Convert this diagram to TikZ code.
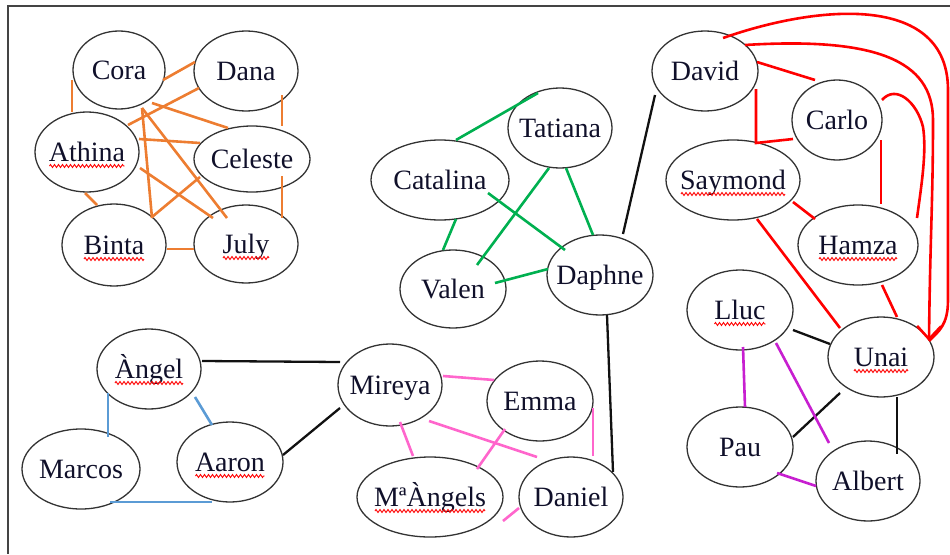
\documentclass[tikz,border=0pt]{standalone}
\usepackage{fontspec}
\setmainfont{Liberation Serif}
\usetikzlibrary{shapes.geometric,calc,decorations.pathmorphing,arrows.meta}
\definecolor{cOr}{HTML}{ED7D31}
\definecolor{cGr}{HTML}{00B050}
\definecolor{cBl}{HTML}{5B9BD5}
\definecolor{cPk}{HTML}{FF66CC}
\definecolor{cMg}{HTML}{C71FD0}
\definecolor{cRd}{HTML}{FF0000}
\definecolor{cBk}{HTML}{111111}
\definecolor{cEl}{HTML}{333333}
\definecolor{cTx}{HTML}{10102A}
\definecolor{cFr}{HTML}{444444}
\begin{document}
\begin{tikzpicture}[x=1pt,y=-1pt,
  el/.style={ellipse,draw=cEl,line width=1.3pt,inner xsep=-10pt,inner ysep=0pt,
    text=cTx,font=\fontsize{28}{30}\selectfont,text height=19pt,text depth=0pt,
    minimum width=106pt,minimum height=80pt},
  edge/.style={line width=2.6pt},
  og/.style={edge,cOr},
  gn/.style={edge,cGr},
  bl/.style={edge,cBl},
  pk/.style={edge,cPk},
  mg/.style={edge,cMg},
  rd/.style={edge,cRd},
  bk/.style={line width=2.3pt,cBk},
  sq/.style={cRd,line width=0.9pt,decorate,decoration={zigzag,segment length=4pt,amplitude=1.5pt}}]
\useasboundingbox (0,0) rectangle (950,554);
\draw[line width=2pt,cFr] (950,6) -- (8,6) -- (8,554);

% orange cluster
\node[el,minimum width=92pt,minimum height=78pt] (Cora) at (119,70) {Cora};
\node[el,minimum width=104pt] (Dana) at (246,71) {Dana};
\node[el,minimum width=104pt] (Athina) at (87,152) {Athina};
\node[el,minimum width=116pt,minimum height=66pt] (Celeste) at (252,159) {Celeste};
\node[el,minimum width=104pt,minimum height=82pt] (Binta) at (114,245) {Binta};
\node[el,minimum width=104pt,minimum height=78pt] (July) at (246,244) {July};
% green cluster
\node[el,minimum width=104pt] (Tatiana) at (560,128) {Tatiana};
\node[el,minimum width=138pt] (Catalina) at (440,180) {Catalina};
\node[el,minimum height=78pt] (Valen) at (453,289) {Valen};
\node[el] (Daphne) at (600,275) {Daphne};
% red cluster
\node[el] (David) at (705,71) {David};
\node[el,minimum width=90pt] (Carlo) at (837,120) {Carlo};
\node[el,minimum width=134pt] (Saymond) at (733,180) {Saymond};
\node[el,minimum width=120pt] (Hamza) at (858,245) {Hamza};
% lower right
\node[el] (Lluc) at (740,310) {Lluc};
\node[el] (Unai) at (881,357) {Unai};
\node[el] (Pau) at (740,447) {Pau};
\node[el,minimum width=104pt] (Albert) at (868,481) {Albert};
% lower left
\node[el,minimum width=104pt] (Angel) at (149,369) {Àngel};
\node[el,minimum width=118pt] (Marcos) at (81,469) {Marcos};
\node[el] (Aaron) at (230,462) {Aaron};
\node[el,minimum width=104pt,minimum height=82pt] (Mireya) at (390,385) {Mireya};
\node[el] (Emma) at (540,401) {Emma};
\node[el,minimum width=146pt] (MAngels) at (430,497) {MªÀngels};
\node[el,minimum width=104pt] (Daniel) at (571,497) {Daniel};

% orange edges
\draw[og] ($(Cora)+(-47,10)$) -- ($(Athina)+(-15,-40)$);
\draw[og] ($(Cora)+(44,10)$) -- ($(Dana)+(-51,-9)$);
\draw[og] ($(Athina)+(41,-27)$) -- ($(Dana)+(-47,17)$);
\draw[og] ($(Cora)+(33,33)$) -- ($(Celeste)+(-24,-31)$);
\draw[og] ($(Athina)+(52,-13)$) -- ($(Celeste)+(-52,-16)$);
\draw[og] ($(Cora)+(23,38)$) -- ($(Binta)+(38,-27)$);
\draw[og] ($(Binta)+(38,-28)$) -- ($(Celeste)+(-52,18)$);
\draw[og] ($(Athina)+(-2,41)$) -- ($(Binta)+(-17,-40)$);
\draw[og] ($(Binta)+(53,4)$) -- ($(July)+(-52,5)$);
\draw[og] ($(Dana)+(36,24)$) -- ($(Celeste)+(30,-33)$);
\draw[og] ($(Celeste)+(30,17)$) -- ($(July)+(36,-26)$);
\draw[og] ($(Athina)+(53,16)$) -- ($(July)+(-33,-26)$);
\draw[og] ($(Cora)+(23,38)$) -- ($(July)+(-19,-26)$);

% green edges
\draw[gn] ($(Catalina)+(16,-40)$) -- ($(Tatiana)+(-22,-35)$);
\draw[gn] ($(Tatiana)+(-11,40)$) -- ($(Valen)+(24,-24)$);
\draw[gn] ($(Tatiana)+(6,40)$) -- ($(Daphne)+(-7,-40)$);
\draw[gn] ($(Catalina)+(48,13)$) -- ($(Daphne)+(-35,-25)$);
\draw[gn] ($(Catalina)+(16,39)$) -- ($(Valen)+(-10,-39)$);
\draw[gn] ($(Valen)+(42,-6)$) -- ($(Daphne)+(-52,-6)$);

% black edges
\draw[bk] ($(Daphne)+(23,-41)$) -- ($(David)+(-50,24)$);
\draw[bk] ($(Daphne)+(7,40)$) -- ($(Daniel)+(42,-25)$);
\draw[bk] ($(Angel)+(53,-8)$) -- ($(Mireya)+(-50,-23)$);
\draw[bk] ($(Aaron)+(53,-7)$) -- ($(Mireya)+(-50,23)$);
\draw[bk] ($(Lluc)+(53,20)$) -- ($(Unai)+(-51,-13)$);
\draw[bk] ($(Unai)+(-41,36)$) -- ($(Pau)+(53,-10)$);
\draw[bk] ($(Unai)+(16,40)$) -- ($(Albert)+(29,-27)$);

% blue edges
\draw[bl] ($(Angel)+(-41,24)$) -- ($(Marcos)+(27,-32)$);
\draw[bl] ($(Angel)+(46,28)$) -- ($(Aaron)+(-18,-37)$);
\draw[bl] ($(Marcos)+(29,33)$) -- ($(Aaron)+(-18,40)$);

% pink edges
\draw[pk] ($(Mireya)+(53,-9)$) -- ($(Emma)+(-46,-21)$);
\draw[pk] ($(Mireya)+(10,37)$) -- ($(MAngels)+(-17,-41)$);
\draw[pk] ($(Mireya)+(39,36)$) -- ($(Daniel)+(-34,-40)$);
\draw[pk] ($(Emma)+(-35,28)$) -- ($(MAngels)+(47,-28)$);
\draw[pk] ($(Emma)+(53,7)$) -- ($(Daniel)+(22,-41)$);
\draw[pk] ($(MAngels)+(73,24)$) -- ($(Daniel)+(-52,11)$);

% magenta edges
\draw[mg] ($(Lluc)+(3,37)$) -- ($(Pau)+(5,-40)$);
\draw[mg] ($(Lluc)+(36,33)$) -- ($(Albert)+(-39,-38)$);
\draw[mg] ($(Pau)+(37,26)$) -- ($(Albert)+(-52,5)$);

% red edges
\draw[rd] ($(David)+(52,-9)$) -- ($(Carlo)+(-22,-40)$);
\draw[rd] ($(David)+(51,18)$) -- ($(Saymond)+(23,-37)$) -- ($(Carlo)+(-44,19)$);
\draw[rd] ($(Carlo)+(44,20)$) -- ($(Hamza)+(23,-41)$);
\draw[rd] ($(Saymond)+(60,22)$) -- ($(Hamza)+(-43,-26)$);
\draw[rd] ($(Saymond)+(24,39)$) -- ($(Unai)+(-41,-29)$);
\draw[rd] ($(Hamza)+(24,40)$) -- ($(Unai)+(16,-40)$);
\draw[rd] ($(Carlo)+(45,-20)$) .. controls +(14,-16) and +(-6,-25) .. ($(Hamza)+(65,-118)$)
   .. controls +(4,25) and +(4,-30) .. ($(Hamza)+(59,-27)$);
\draw[rd,-{Straight Barb[length=13pt,width=24pt]}] ($(David)+(40,-26)$) .. controls +(130,-8) and +(0,-60) .. ($(Unai)+(52,-237)$)
   .. controls +(0,80) and +(1,-100) .. ($(Unai)+(48,-16)$);
\draw[rd] ($(David)+(18,-33)$) .. controls +(100,-35) and +(0,-95) .. ($(Unai)+(67,-267)$)
   -- ($(Unai)+(67,-57)$) .. controls +(0,25) and +(10,-10) .. ($(Unai)+(48,-16)$);

% spelling squiggles
\foreach \n/\w in {Athina/75,Binta/60,July/46,Saymond/104,Hamza/78,Unai/54,Lluc/51,Angel/68,Aaron/69,MAngels/110}
  \draw[sq] ($(\n)+(-\w/2,14)$) -- ($(\n)+(\w/2,14)$);
\end{tikzpicture}
\end{document}
